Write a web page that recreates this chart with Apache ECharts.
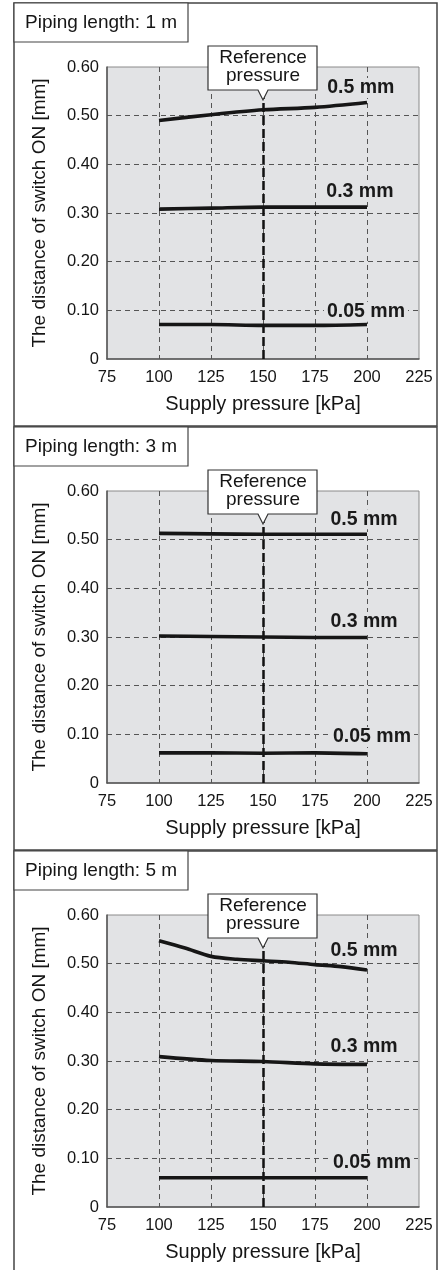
<!DOCTYPE html>
<html>
<head>
<meta charset="utf-8">
<script src="https://cdn.jsdelivr.net/npm/echarts@6/dist/echarts.min.js"></script>
<style>
html,body{margin:0;padding:0;background:#fff;}
#c{width:442px;height:1270px;}
</style>
</head>
<body>
<div id="c"></div>
<script>
// ---- data ----
var panelTitles = ['Piping length: 1 m', 'Piping length: 3 m', 'Piping length: 5 m'];
var seriesNames = ['0.5 mm', '0.3 mm', '0.05 mm'];
var xTicks = [75, 100, 125, 150, 175, 200, 225];
var yTicks = [0, 0.1, 0.2, 0.3, 0.4, 0.5, 0.6];
var referencePressure = 150;

var pressure = [100, 125, 150, 175, 200];
var pressureFine = [100, 112.5, 125, 137.5, 150, 162.5, 175, 187.5, 200];

// Piping length 1 m
var len1_05 = [0.490, 0.502, 0.512, 0.517, 0.527];
var len1_03 = [0.308, 0.310, 0.312, 0.312, 0.312];
var len1_005 = [0.071, 0.071, 0.069, 0.069, 0.071];
// Piping length 3 m
var len3_05 = [0.513, 0.512, 0.511, 0.511, 0.511];
var len3_03 = [0.302, 0.301, 0.300, 0.299, 0.299];
var len3_005 = [0.062, 0.062, 0.061, 0.062, 0.060];
// Piping length 5 m
var len5_05 = [0.547, 0.532, 0.515, 0.509, 0.506, 0.503, 0.498, 0.494, 0.487];
var len5_03 = [0.309, 0.301, 0.299, 0.294, 0.293];
var len5_005 = [0.060, 0.060, 0.060, 0.060, 0.060];

// ---- layout (not data) ----
var FONT = '"Liberation Sans", Arial, Helvetica, sans-serif';
var TXT = '#151515';
var PLOT_BG = '#e2e3e5';
var PANEL_H = 424;
var GRID_TOP0 = 67, GRID_LEFT = 107, GRID_W = 312, GRID_H = 292;
// label anchor points in data space for series names
var labelSpots = [
  [[197, 0.557], [196.6, 0.343], [199.5, 0.097]],
  [[198.6, 0.542], [198.6, 0.331], [202.4, 0.0945]],
  [[198.6, 0.526], [198.6, 0.329], [202.4, 0.0904]]
];

var panelData = [
  [[pressure, len1_05], [pressure, len1_03], [pressure, len1_005]],
  [[pressure, len3_05], [pressure, len3_03], [pressure, len3_005]],
  [[pressureFine, len5_05], [pressure, len5_03], [pressure, len5_005]]
];

function zip(xs, ys) { return xs.map(function (x, i) { return [x, ys[i]]; }); }

function build() {
  var grids = [], xAxes = [], yAxes = [], series = [];
  for (var p = 0; p < 3; p++) {
    var gridTop = GRID_TOP0 + p * PANEL_H;
    grids.push({
      left: GRID_LEFT, top: gridTop, width: GRID_W, height: GRID_H,
      show: true, backgroundColor: PLOT_BG, borderColor: '#8a8a8a', borderWidth: 1
    });
    xAxes.push({
      type: 'value', gridIndex: p, min: xTicks[0], max: xTicks[xTicks.length - 1], interval: 25,
      name: 'Supply pressure [kPa]', nameLocation: 'middle', nameGap: 35,
      nameTextStyle: { fontFamily: FONT, fontSize: 20, color: TXT },
      axisLine: { show: true, lineStyle: { color: '#555', width: 1.5 } },
      axisTick: { show: false },
      axisLabel: { fontFamily: FONT, fontSize: 16.5, color: TXT, margin: 10 },
      splitLine: { show: true, showMinLine: false, showMaxLine: false,
        lineStyle: { color: '#555', width: 1, type: [5, 4] } }
    });
    yAxes.push({
      type: 'value', gridIndex: p, min: yTicks[0], max: yTicks[yTicks.length - 1], interval: 0.1,
      name: 'The distance of switch ON [mm]', nameLocation: 'middle', nameGap: 58, nameRotate: 90,
      nameTextStyle: { fontFamily: FONT, fontSize: 19, color: TXT },
      axisLine: { show: true, lineStyle: { color: '#555', width: 1.5 } },
      axisTick: { show: false },
      axisLabel: { fontFamily: FONT, fontSize: 16.5, color: TXT, margin: 8,
        formatter: function (v) { return v === 0 ? '0' : v.toFixed(2); } },
      splitLine: { show: true, showMinLine: false, showMaxLine: false,
        lineStyle: { color: '#555', width: 1, type: [5, 4] } }
    });
    for (var s = 0; s < 3; s++) {
      var d = panelData[p][s];
      var ser = {
        type: 'line', name: seriesNames[s], xAxisIndex: p, yAxisIndex: p,
        data: zip(d[0], d[1]), smooth: 0.3, showSymbol: false, symbol: 'none',
        lineStyle: { color: '#161616', width: 3.6 }, z: 5,
        markPoint: {
          symbol: 'circle', symbolSize: 0, silent: true,
          label: { show: true, position: 'inside', formatter: seriesNames[s],
            fontFamily: FONT, fontSize: 19.5, fontWeight: 'bold', color: '#1a1a1a',
            backgroundColor: PLOT_BG, padding: [0, 3] },
          data: [{ coord: labelSpots[p][s] }]
        },
        animation: false
      };
      if (s === 0) {
        ser.markLine = {
          silent: true, symbol: 'none', animation: false,
          label: { show: false },
          lineStyle: { color: '#111', width: 2.5, type: [9, 4] },
          data: [[{ coord: [referencePressure, yTicks[0]] }, { coord: [referencePressure, yTicks[yTicks.length - 1]] }]]
        };
      }
      series.push(ser);
    }
  }
  return { grids: grids, xAxes: xAxes, yAxes: yAxes, series: series };
}

var built = build();
var chart = echarts.init(document.getElementById('c'), null, { renderer: 'canvas' });
chart.setOption({
  animation: false,
  backgroundColor: '#ffffff',
  grid: built.grids, xAxis: built.xAxes, yAxis: built.yAxes, series: built.series
});

// decorations: panel frames, title boxes, reference callouts
var graphics = [];
for (var p = 0; p < 3; p++) {
  var y0 = 3 + p * PANEL_H;
  graphics.push({ type: 'rect', z: 0, silent: true,
    shape: { x: 14, y: y0, width: 423, height: 423 },
    style: { fill: 'none', stroke: '#444', lineWidth: 1.5 } });
  graphics.push({ type: 'rect', z: 10, silent: true,
    shape: { x: 14, y: y0, width: 174, height: 39 },
    style: { fill: '#fff', stroke: '#444', lineWidth: 1.2 } });
  graphics.push({ type: 'text', z: 11, silent: true, x: 25, y: y0 + 20,
    style: { text: panelTitles[p], font: '19px ' + FONT, fill: TXT, verticalAlign: 'middle', textAlign: 'left' } });

  var px = chart.convertToPixel({ xAxisIndex: p }, referencePressure);
  var gtop = chart.convertToPixel({ yAxisIndex: p }, yTicks[yTicks.length - 1]);
  var bx0 = px - 55, bx1 = px + 54, by0 = gtop - 21, by1 = gtop + 23;
  graphics.push({ type: 'polygon', z: 20, silent: true,
    shape: { points: [[bx0, by0], [bx1, by0], [bx1, by1], [px + 5, by1], [px, by1 + 10], [px - 5, by1], [bx0, by1]] },
    style: { fill: '#fff', stroke: '#333', lineWidth: 1.2 } });
  graphics.push({ type: 'text', z: 21, silent: true, x: px, y: by0 + 12,
    style: { text: 'Reference', font: '19px ' + FONT, fill: TXT, textAlign: 'center', verticalAlign: 'middle' } });
  graphics.push({ type: 'text', z: 21, silent: true, x: px, y: by0 + 30,
    style: { text: 'pressure', font: '19px ' + FONT, fill: TXT, textAlign: 'center', verticalAlign: 'middle' } });
}
chart.setOption({ graphic: graphics });
</script>
</body>
</html>
